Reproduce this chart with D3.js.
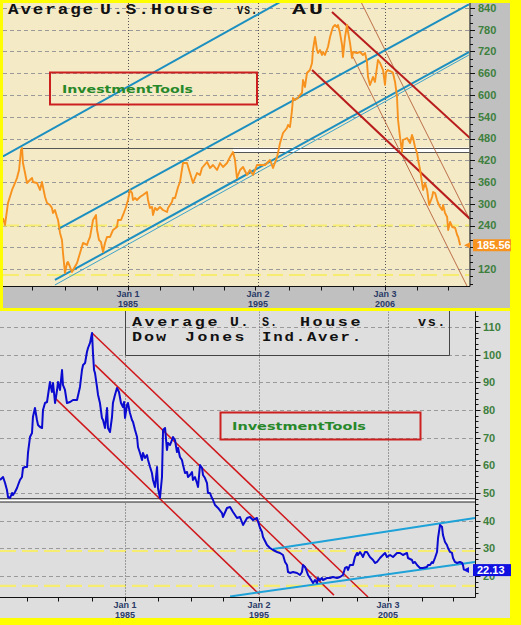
<!DOCTYPE html>
<html><head><meta charset="utf-8">
<script src="https://cdn.jsdelivr.net/npm/d3@7"></script>
<style>body{margin:0;background:#ffff00;} svg{display:block}</style>
</head><body>
<svg id="c" width="521" height="625"></svg>
<script>
// ---------- DATA : Average U.S. House priced in gold ounces (AU) ----------
const auYears = [1975.38,1975.54,1975.77,1976.08,1976.31,1976.46,1976.62,1976.77,1976.85,1976.92,
1977.08,1977.23,1977.46,1977.62,1977.69,1978.0,1978.23,1978.38,1978.46,1978.62,
1978.77,1979.0,1979.15,1979.23,1979.38,1979.54,1979.62,1979.77,1979.92,1980.0,
1980.15,1980.31,1980.38,1980.54,1980.69,1980.77,1981.08,1981.31,1981.54,1981.85,
1981.92,1982.08,1982.31,1982.54,1982.62,1982.77,1982.92,1983.08,1983.23,1983.38,
1983.62,1983.85,1984.15,1984.23,1984.46,1984.62,1984.85,1985.0,1985.15,1985.31,
1985.38,1985.54,1985.69,1985.92,1986.15,1986.46,1986.54,1986.69,1986.85,1986.92,
1987.08,1987.23,1987.46,1987.69,1988.0,1988.08,1988.23,1988.38,1988.46,1988.62,
1988.85,1989.0,1989.23,1989.54,1989.77,1990.0,1990.31,1990.54,1990.69,1991.08,
1991.31,1991.54,1991.85,1992.08,1992.31,1992.62,1992.85,1993.08,1993.23,1993.38,
1993.62,1993.85,1994.15,1994.38,1994.62,1994.92,1995.17,1995.61,1996.04,1996.3,
1996.65,1996.73,1996.91,1997.17,1997.51,1997.6,1997.77,1997.95,1998.03,1998.2,
1998.46,1998.64,1998.81,1998.9,1999.07,1999.24,1999.5,1999.68,1999.76,1999.94,
2000.11,2000.2,2000.37,2000.54,2000.63,2000.8,2001.06,2001.24,2001.41,2001.5,
2001.67,2001.84,2001.93,2002.1,2002.28,2002.36,2002.54,2002.71,2002.8,2002.97,
2003.14,2003.23,2003.58,2003.84,2004.09,2004.27,2004.44,2004.53,2004.7,2004.96,
2005.13,2005.31,2005.39,2005.57,2005.83,2006.0,2006.09,2006.26,2006.61,2006.69,
2006.87,2007.04,2007.13,2007.3,2007.47,2007.56,2007.91,2008.17,2008.34,2008.43,
2008.6,2008.78,2008.87,2009.04,2009.3,2009.47,2009.65,2009.82,2010.08,2010.17,
2010.34,2010.51,2010.6,2010.77,2010.95,2011.03,2011.2,2011.38,2011.47,2011.64,
2011.82,2012.08,2012.25,2012.34,2012.51];
const auValues = [260.7,241.4,302.1,338,357.3,371.1,393.1,448.3,453.8,412.4,
384.8,357.3,365.5,371.1,360,357.3,338,360,346.2,318.6,
302.1,296.6,288.3,274.5,282.8,263.5,255.2,219.4,200.1,164.2,
109,136.6,139.4,125.6,111.8,117.3,136.6,164.2,191.8,186.3,
194.6,208.4,255.2,269,227.6,200.1,194.6,167,191.8,208.4,
208.4,227.6,235.9,255.2,255.2,269,291.1,310.4,338,329.7,
310.4,315.9,310.4,318.6,324.2,332.4,310.4,288.3,291.1,269,
288.3,282.8,291.1,282.8,277.3,288.3,296.6,304.8,315.9,315.9,
346.2,360,412.4,412.4,384.8,357.3,384.8,379.3,398.6,415.2,
398.6,406.9,393.1,412.4,401.4,412.4,429,442.8,420.7,371.1,
393.1,401.4,379.3,393.1,379.3,406.9,406.9,406.9,420.7,398.6,
429,440,467.6,495.2,509,517.2,511.7,558.7,591.7,586.2,
591.7,600,605.5,641.4,622.1,660.7,668.9,688.3,724.1,760,
724.1,715.9,724.1,710.3,718.6,710.3,732.4,760,779.3,787.6,
793.1,787.6,793.1,771.1,737.9,704.8,760,793.1,773.8,743.5,
702.1,718.6,715.9,718.6,710.3,715.9,691,649.7,627.6,649.7,
635.9,677.3,696.6,688.3,668.9,627.6,663.4,668.9,663.4,660.7,
635.9,594.5,531,484.1,442.8,475.9,481.4,467.6,489.7,481.4,
456.6,440,420.7,393.1,338,357.3,338,296.6,318.6,332.4,
329.7,310.4,302.1,291.1,282.8,296.6,274.5,263.5,227.6,249.7,
235.9,233.2,213.8,208.4,185.56];
const auLast = "185.56";
const auTicks = [120,180,240,300,360,420,480,540,600,660,720,780,840];
const auDateTicks = [1977.6,1980.15,1982.6,1985,1987.45,1990,1992.4,1994.8,1997.7,2000.45,2003.25,2006,2008.8,2011.45];
const auDateLabelYears = [1985,1995,2006];
const auDateLabels = [["Jan 1","1985"],["Jan 2","1995"],["Jan 3","2006"]];
// trend / channel lines: [year1, value1, year2, value2]
const auChannelBlue = [[1975.38,430.6,1997.46,866.2],[1979.62,230.3,2013.27,850],[1979.38,89.7,2013.27,718.6]];
const auChannelBlueThin = [[1979.38,75.9,2013.27,710.3]];
const auTrendRed = [[2001.41,829,2013.36,481.4],[1999.68,669,2013.36,258]];
const auTrendThin = [[2003.84,862,2013.36,255],[2003.23,705,2013.1,73]];
const auSupport = [[1976.85,455],[1993.08,442.8]];
const auYellowLevels = [240,103.5];

// ---------- DATA : Average U.S. House vs Dow Jones Industrial Average ----------
const dowYears = [1975.67,1975.9,1976.05,1976.19,1976.27,1976.42,1976.57,1976.64,1976.79,1976.94,
1977.02,1977.16,1977.31,1977.39,1977.54,1977.69,1977.76,1977.91,1978.06,1978.13,
1978.28,1978.43,1978.51,1978.66,1978.81,1978.88,1979.03,1979.18,1979.4,1979.55,
1979.63,1979.78,1979.93,1980.0,1980.15,1980.3,1980.37,1980.52,1980.67,1980.9,
1981.12,1981.42,1981.64,1981.79,1981.87,1982.02,1982.16,1982.24,1982.39,1982.54,
1982.61,1982.69,1982.76,1982.91,1982.99,1983.13,1983.28,1983.36,1983.51,1983.66,
1983.73,1983.88,1984.03,1984.1,1984.25,1984.4,1984.55,1984.7,1984.85,1984.93,
1985.0,1985.15,1985.22,1985.37,1985.52,1985.6,1985.75,1985.9,1985.97,1986.12,
1986.27,1986.34,1986.49,1986.64,1986.72,1986.87,1987.01,1987.09,1987.24,1987.39,
1987.46,1987.61,1987.76,1987.84,1987.99,1988.13,1988.21,1988.36,1988.51,1988.58,
1988.73,1988.88,1988.96,1989.1,1989.25,1989.33,1989.48,1989.63,1989.7,1989.85,
1990.0,1990.07,1990.22,1990.37,1990.45,1990.6,1990.75,1990.82,1990.97,1991.12,
1991.19,1991.34,1991.49,1991.57,1991.72,1991.94,1992.24,1992.31,1992.61,1992.84,
1993.06,1993.36,1993.58,1993.81,1994.11,1994.33,1994.55,1994.85,1995.08,1995.23,
1995.31,1995.62,1995.85,1996.09,1996.4,1996.63,1996.86,1997.02,1997.17,1997.25,
1997.4,1997.64,1997.95,1998.18,1998.33,1998.41,1998.57,1998.72,1998.8,1998.95,
1999.19,1999.34,1999.5,1999.57,1999.73,1999.88,1999.96,2000.27,2000.5,2000.74,
2001.05,2001.28,2001.51,2001.67,2001.82,2001.9,2002.05,2002.29,2002.44,2002.6,
2002.67,2002.83,2002.98,2003.06,2003.22,2003.37,2003.6,2003.84,2003.99,2004.15,
2004.38,2004.61,2004.77,2004.92,2005.16,2005.39,2005.7,2005.93,2006.16,2006.47,
2006.55,2006.86,2006.94,2007.09,2007.25,2007.48,2007.71,2008.02,2008.1,2008.26,
2008.41,2008.49,2008.64,2008.8,2008.88,2009.03,2009.19,2009.26,2009.42,2009.57,
2009.65,2009.81,2009.96,2010.04,2010.19,2010.35,2010.58,2010.74,2010.81,2010.89];
const dowValues = [54.7,55.78,53.61,51.08,48.55,48.19,50.0,49.28,50.36,51.81,
52.89,54.7,55.78,59.04,59.4,59.4,64.46,70.24,71.69,77.47,
80.72,76.39,74.58,73.86,73.5,80.0,82.53,82.89,90.12,86.51,
89.76,82.53,87.23,90.12,87.23,94.46,89.04,87.23,82.53,82.89,
83.61,83.61,88.32,94.46,96.27,96.99,100.96,102.41,104.22,107.83,
100.6,94.46,93.38,88.32,85.42,82.53,77.11,76.39,73.5,80.72,
73.5,72.05,77.47,82.53,85.42,87.95,86.51,82.53,81.09,82.89,
77.11,81.81,82.53,78.92,76.39,75.67,72.77,70.24,66.63,64.46,
61.93,64.46,62.65,63.74,61.93,59.4,57.23,54.7,52.17,59.4,
51.81,48.19,55.78,72.77,73.5,65.54,68.07,67.35,69.16,70.24,
69.16,64.82,66.27,63.01,61.93,60.12,57.23,57.59,55.78,56.51,
57.59,54.7,55.78,53.61,52.17,60.12,59.04,56.51,55.42,53.61,
50.0,50.0,48.19,47.47,45.66,44.58,42.77,41.33,44.58,44.94,
43.13,40.97,41.33,38.43,40.97,41.33,40.24,40.97,37.35,35.9,
34.1,31.2,30.12,29.4,28.68,28.32,27.59,25.07,23.98,21.45,
21.09,21.45,21.09,20.37,21.45,23.98,23.26,21.45,20.37,19.28,
17.47,18.56,17.47,19.28,18.56,19.28,18.56,19.28,19.28,19.64,
19.28,19.64,20.37,22.9,23.26,22.17,23.98,23.98,26.87,28.32,
27.59,28.68,27.59,26.87,28.68,28.68,26.87,25.79,24.7,25.07,
26.51,27.59,28.32,26.87,27.59,26.87,28.32,28.32,27.59,28.32,
26.51,25.79,24.7,25.07,23.98,22.9,22.9,23.26,23.98,23.98,
25.07,24.7,26.51,28.68,33.73,38.43,37.71,34.82,32.29,31.2,
30.12,28.68,28.32,26.51,25.07,24.7,25.07,24.7,23.98,22.13];
const dowLast = "22.13";
const dowTicks = [20,30,40,50,60,70,80,90,100,110];
const dowDateTicks = [1977.7,1980.0,1982.55,1985,1987.45,1989.93,1992.3,1995,1997.4,1999.9,2002.6,2005,2007.65,2010.05];
const dowDateLabelYears = [1985,1995,2005];
const dowDateLabels = [["Jan 1","1985"],["Jan 2","1995"],["Jan 3","2005"]];
const dowTrendRed = [[1982.54,107.83,2003.45,12.4],[1982.76,96.3,2000.81,13.1],[1979.78,84.3,1995.0,13.5]];
const dowChannelBlue = [[1996.09,29.76,2011.74,40.97],[1992.84,12.6,2011.74,25.06]];
const dowSupport = [47.9,46.75];
const dowYellowLevels = [29.04,16.4];

// ---------- DRAWING ----------
const svg = d3.select('#c');
const T = {l:3, r:469.5, t:3, b:286.5};
const B = {l:0, r:475.5, t:311.5, b:597.5};

const xT = d3.scaleLinear().domain([1985,1995,2006]).range([128,258,385]);
const yT = d3.scaleLinear().domain([120,840]).range([269,8]);
const xB = d3.scaleLinear().domain([1985,1995,2005]).range([125,259,388]);
const yB = d3.scaleLinear().domain([20,110]).range([576,327]);
const cr = v => Math.round(v) + 0.5;

svg.append('rect').attr('width',521).attr('height',625).attr('fill','#ffff00');
svg.append('rect').attr('x',3).attr('y',3).attr('width',507).attr('height',305).attr('fill','#c0c0c0');
svg.append('rect').attr('x',T.l).attr('y',T.t).attr('width',T.r-T.l).attr('height',T.b-T.t).attr('fill','#f4eac6');
svg.append('rect').attr('x',0).attr('y',311).attr('width',510).attr('height',307).attr('fill','#dedede');

const defs = svg.append('defs');
defs.append('clipPath').attr('id','clipT').append('rect').attr('x',T.l).attr('y',T.t).attr('width',T.r-T.l).attr('height',T.b-T.t);
defs.append('clipPath').attr('id','clipB').append('rect').attr('x',B.l).attr('y',B.t).attr('width',B.r-B.l).attr('height',B.b-B.t);

function panel(P, x, y, clipId, o) {
  const g = svg.append('g').attr('clip-path', `url(#${clipId})`);
  g.selectAll('line.hg').data(o.ticks).enter().append('line')
    .attr('x1',P.l).attr('x2',P.r).attr('y1',d=>cr(y(d))).attr('y2',d=>cr(y(d)))
    .attr('stroke','#9a9a9a').attr('stroke-width',1).attr('stroke-dasharray','4,3');
  g.selectAll('line.yl').data(o.yellow).enter().append('line')
    .attr('x1',P.l).attr('x2',P.r).attr('y1',d=>y(d)).attr('y2',d=>y(d))
    .attr('stroke','#f6ec70').attr('stroke-width',2.2).attr('stroke-dasharray','16,6');
  g.selectAll('line.vg').data(o.dateLabelYears).enter().append('line')
    .attr('x1',d=>cr(x(d))).attr('x2',d=>cr(x(d))).attr('y1',P.t).attr('y2',P.b)
    .attr('stroke','#555').attr('stroke-width',1).attr('stroke-dasharray','1,2');
  return g;
}
function segs(g, data, x, y, color, w) {
  g.selectAll(null).data(data).enter().append('line')
    .attr('x1',d=>x(d[0])).attr('y1',d=>y(d[1])).attr('x2',d=>x(d[2])).attr('y2',d=>y(d[3]))
    .attr('stroke',color).attr('stroke-width',w);
}

// ===== TOP PANEL =====
const gT = panel(T, xT, yT, 'clipT', {ticks:auTicks, yellow:auYellowLevels, dateLabelYears:auDateLabelYears});
gT.append('rect').attr('x',xT(auSupport[1][0])).attr('y',yT(auSupport[0][1]))
  .attr('width',T.r-xT(auSupport[1][0])).attr('height',yT(auSupport[1][1])-yT(auSupport[0][1])).attr('fill','#ffffff');
gT.selectAll('line.sup').data(auSupport).enter().append('line')
  .attr('x1',d=>xT(d[0])).attr('x2',T.r).attr('y1',d=>cr(yT(d[1]))).attr('y2',d=>cr(yT(d[1])))
  .attr('stroke','#555').attr('stroke-width',1.2);
segs(gT, auTrendThin, xT, yT, '#b5603a', 0.9);
segs(gT, auChannelBlueThin, xT, yT, '#2a9bc8', 0.9);
segs(gT, auChannelBlue, xT, yT, '#1c8fc0', 2);
segs(gT, auTrendRed, xT, yT, '#b81c1c', 2);
const lineT = d3.line().x((d,i)=>xT(auYears[i])).y(d=>yT(d));
gT.append('path').attr('d', lineT(auValues)).attr('fill','none').attr('stroke','#f7921e')
  .attr('stroke-width',1.9).attr('stroke-linejoin','round');

// ===== BOTTOM PANEL =====
const gB = panel(B, xB, yB, 'clipB', {ticks:dowTicks, yellow:dowYellowLevels, dateLabelYears:dowDateLabelYears});
gB.append('rect').attr('x',B.l).attr('y',yB(dowSupport[0])).attr('width',B.r-B.l)
  .attr('height',yB(dowSupport[1])-yB(dowSupport[0])).attr('fill','#ffffff');
gB.selectAll('line.sup').data(dowSupport).enter().append('line')
  .attr('x1',B.l).attr('x2',B.r).attr('y1',d=>yB(d)).attr('y2',d=>yB(d))
  .attr('stroke','#222').attr('stroke-width',1.1);
segs(gB, dowTrendRed, xB, yB, '#d0181c', 1.5);
segs(gB, dowChannelBlue, xB, yB, '#1ea2d8', 2);
const lineB = d3.line().x((d,i)=>xB(dowYears[i])).y(d=>yB(d));
gB.append('path').attr('d', lineB(dowValues)).attr('fill','none').attr('stroke','#0a0ad0')
  .attr('stroke-width',2).attr('stroke-linejoin','round');

// ===== AXES =====
function yAxis(P, y, ticks, minorStep, axX, labelX, lo, hi, hideNear) {
  svg.append('line').attr('x1',axX).attr('x2',axX).attr('y1',P.t).attr('y2',P.b).attr('stroke','#111').attr('stroke-width',1);
  const minors = d3.range(lo, hi + 0.001, minorStep);
  svg.selectAll(null).data(minors).enter().append('line')
    .attr('x1',axX).attr('x2',axX+3).attr('y1',d=>cr(y(d))).attr('y2',d=>cr(y(d))).attr('stroke','#111');
  svg.selectAll(null).data(ticks).enter().append('line')
    .attr('x1',axX).attr('x2',axX+5).attr('y1',d=>cr(y(d))).attr('y2',d=>cr(y(d))).attr('stroke','#111');
  // labels hidden where the last-value tag covers them
  svg.selectAll(null).data(ticks.filter(d => Math.abs(y(d) - hideNear) > 8)).enter().append('text')
    .attr('x',labelX).attr('y',d=>y(d)).attr('dy','0.36em')
    .attr('font-family','Liberation Sans, Arial, sans-serif').attr('font-weight','bold').attr('font-size',11)
    .attr('fill','#3d7f3d').text(d=>d);
}
function xAxis(P, x, axY, ticks, labYears, labs, l1, l2, axR) {
  svg.append('line').attr('x1',P.l).attr('x2',axR).attr('y1',axY).attr('y2',axY).attr('stroke','#111');
  svg.selectAll(null).data(ticks).enter().append('line')
    .attr('x1',d=>cr(x(d))).attr('x2',d=>cr(x(d))).attr('y1',axY).attr('y2',axY+4).attr('stroke','#111');
  labYears.forEach((yr,i)=>{
    [l1,l2].forEach((yy,j)=>{
      svg.append('text').attr('x',x(yr)).attr('y',yy).attr('text-anchor','middle')
        .attr('font-family','Liberation Sans, Arial, sans-serif').attr('font-weight','bold').attr('font-size',9)
        .attr('fill','#2a3a66').text(labs[i][j]);
    });
  });
}
const auTagY = yT(auValues[auValues.length-1]);
const dowTagY = yB(dowValues[dowValues.length-1]);
yAxis(T, yT, auTicks, 20, 470, 478, 80, 850, auTagY);
xAxis(T, xT, 286.5, auDateTicks, auDateLabelYears, auDateLabels, 296.5, 306.5, 470);
yAxis(B, yB, dowTicks, 2, 475.5, 483, 14, 114, -999);
xAxis(B, xB, 597.5, dowDateTicks, dowDateLabelYears, dowDateLabels, 607.5, 617.5, 475.5);

function tag(yv, label, color, ax0, boxX) {
  svg.append('path').attr('d', `M${ax0},${yv} L${ax0+6},${yv-3} L${ax0+6},${yv+3} Z`).attr('fill',color);
  svg.append('rect').attr('x',boxX).attr('y',yv-6).attr('width',511-boxX).attr('height',12).attr('fill',color);
  svg.append('text').attr('x',boxX+4).attr('y',yv).attr('dy','0.36em')
    .attr('font-family','Liberation Sans, Arial, sans-serif').attr('font-weight','bold').attr('font-size',11)
    .attr('fill','#fff').text(label);
}
tag(auTagY, auLast, '#f7921e', 464, 473);
tag(dowTagY, dowLast, '#1010e0', 463, 473);

// ===== TEXT =====
const mono = 'Liberation Mono, Courier New, monospace';
function word(t, x, y, len, size, ls) {
  svg.append('text').attr('x',x).attr('y',y).attr('font-family',mono).attr('font-weight','bold')
    .attr('font-size',size).attr('letter-spacing',ls).attr('fill','#111')
    .attr('textLength',len).attr('lengthAdjust','spacingAndGlyphs').text(t);
}
word('Average', 8, 13.5, 87, 14, 1.5);
word('U.S.House', 100, 13.5, 115, 14, 1.5);
word('vs.', 237, 13.5, 21, 14, 1);
word('AU', 292, 13.5, 34, 15, 2);

svg.append('path').attr('d','M125.5,311 L125.5,355.5 L449.5,355.5 L449.5,311').attr('fill','none').attr('stroke','#444').attr('stroke-width',1);
word('Average', 132, 325.5, 88, 13, 2);
word('U.', 230, 325.5, 20, 13, 1);
word('S.', 262, 325.5, 16, 13, 1);
word('House', 300, 325.5, 63, 13, 2);
word('vs.', 418, 325.5, 29, 13, 1.5);
word('Dow', 132, 341, 36, 13, 1.5);
word('Jones', 185, 341, 62, 13, 2);
word('Ind.Aver.', 262, 341, 101, 13, 1.5);

function brand(x, y, w, h, tx, ty, tl) {
  svg.append('rect').attr('x',x).attr('y',y).attr('width',w).attr('height',h).attr('fill','none')
    .attr('stroke','#cc2020').attr('stroke-width',2);
  svg.append('text').attr('x',tx).attr('y',ty).attr('font-family','DejaVu Sans, Verdana, sans-serif')
    .attr('font-weight','bold').attr('font-size',11).attr('fill','#27882a')
    .attr('textLength',tl).attr('lengthAdjust','spacingAndGlyphs').text('InvestmentTools');
}
brand(50, 72.5, 207, 32, 62, 93, 131);
brand(220.5, 412.5, 200, 27, 232, 430, 134);
</script>
</body></html>
